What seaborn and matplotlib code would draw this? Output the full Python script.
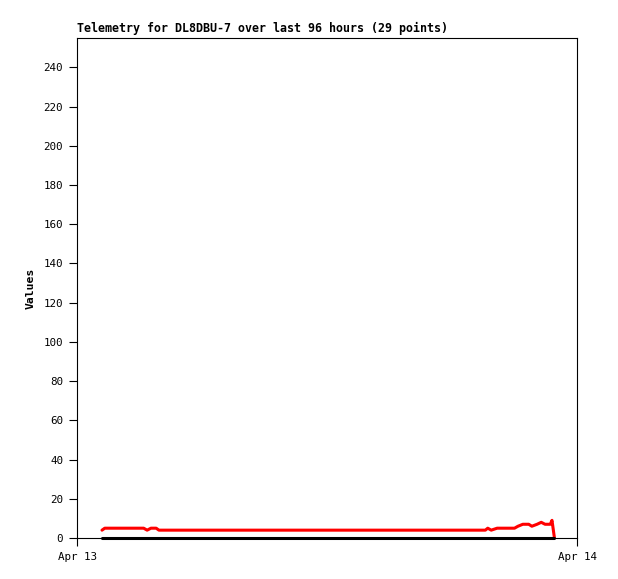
import pandas as pd
import seaborn as sns
import matplotlib.pyplot as plt
import matplotlib.dates as mdates

# telemetry samples (time of day on Apr 13, value)
times = ["01:12", "01:20", "03:12", "03:22", "03:33", "03:48", "03:56",
         "19:36", "19:43", "19:53", "20:10", "21:00", "21:10", "21:24",
         "21:41", "21:50", "22:05", "22:17", "22:28", "22:43", "22:48",
         "22:55"]
values_red = [4, 5, 5, 4, 5, 5, 4,
              4, 5, 4, 5, 5, 6, 7,
              7, 6, 7, 8, 7, 7, 9,
              0]
values_black = [0] * len(times)

stamps = pd.to_datetime(["2024-04-13 " + t for t in times])
df = pd.DataFrame({"time": list(stamps) * 2,
                   "value": values_red + values_black,
                   "series": ["a"] * len(times) + ["b"] * len(times)})

sns.set_style("ticks")
plt.rcParams["font.family"] = ["DejaVu Sans Mono"]
plt.rcParams["text.color"] = "black"

fig = plt.figure(figsize=(6.18, 5.79), dpi=100)
ax = fig.add_axes([77 / 618, 41 / 579, 500 / 618, 500 / 579])

sns.lineplot(data=df, x="time", y="value", hue="series",
             palette={"a": "#ff0000", "b": "#000000"}, linewidth=2.2,
             legend=False, ax=ax)
for ln in ax.get_lines():
    ln.set_clip_on(False)

ax.set_xlim(pd.Timestamp("2024-04-13"), pd.Timestamp("2024-04-14"))
ax.set_ylim(0, 255)
ax.set_yticks(range(0, 241, 20))
ax.set_xticks([pd.Timestamp("2024-04-13"), pd.Timestamp("2024-04-14")])
ax.xaxis.set_major_formatter(mdates.DateFormatter("%b %d"))
ax.tick_params(axis="both", length=6, width=0.8, labelsize=7.8, color="black",
               labelcolor="black", pad=4)
for s in ax.spines.values():
    s.set_color("black")
    s.set_linewidth(0.8)

ax.set_xlabel("")
ax.set_ylabel("Values", fontsize=8.2, fontweight="bold", labelpad=6, color="black")
ax.set_title("Telemetry for DL8DBU-7 over last 96 hours (29 points)",
             loc="left", fontsize=8.4, fontweight="bold", pad=4, color="black")

fig.savefig("out.png", dpi=100, facecolor="white")
